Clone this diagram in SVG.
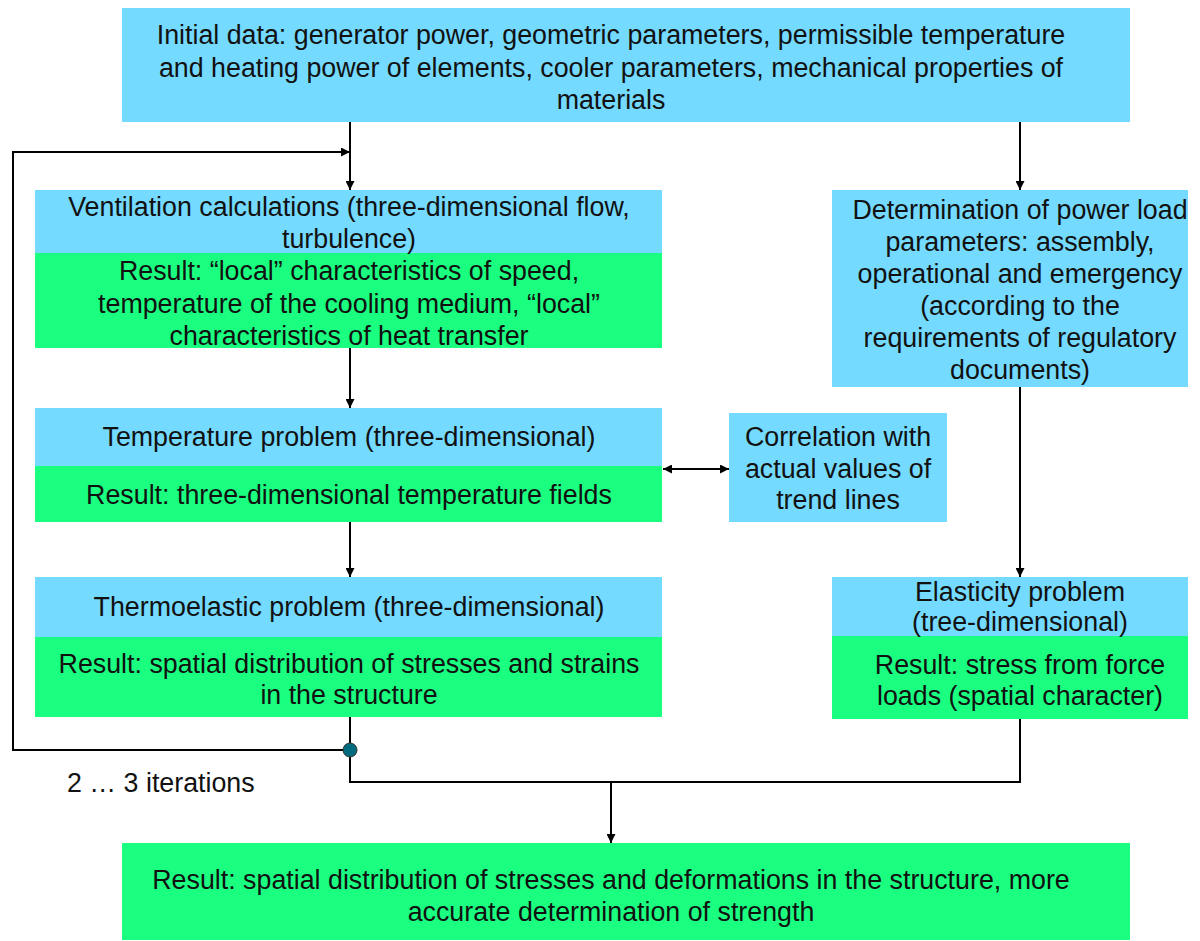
<svg xmlns="http://www.w3.org/2000/svg" width="1200" height="941" viewBox="0 0 1200 941">
<style>
.b{fill:#75DAFF}
.g{fill:#1AFF80}
text{font-family:"Liberation Sans",Arial,sans-serif;font-size:26.8px;fill:#111;text-anchor:middle}
.c{stroke:#000;stroke-width:2;fill:none}
</style>
<defs>
<marker id="a" viewBox="0 0 10 10" refX="10" refY="5" markerWidth="9" markerHeight="9" orient="auto-start-reverse" markerUnits="userSpaceOnUse">
<path d="M0,0 L10,5 L0,10 z" fill="#000"/>
</marker>
</defs>
<rect width="1200" height="941" fill="#fff"/>
<g id="connectors">
<path class="c" d="M350,122 V190" marker-end="url(#a)"/>
<path class="c" d="M350,750 H13 V152 H350" marker-end="url(#a)"/>
<path class="c" d="M350,348 V408" marker-end="url(#a)"/>
<path class="c" d="M350,522 V577" marker-end="url(#a)"/>
<path class="c" d="M350,717 V782 H1020 V719"/>
<path class="c" d="M611,782 V843" marker-end="url(#a)"/>
<path class="c" d="M1020,122 V190" marker-end="url(#a)"/>
<path class="c" d="M1020,387 V577" marker-end="url(#a)"/>
<path class="c" d="M663,469 H729" marker-start="url(#a)" marker-end="url(#a)"/>
<circle cx="350" cy="750" r="7" fill="#006A7E" stroke="#333" stroke-width="1"/>
</g>
<g id="initial">
<rect class="b" x="122" y="8" width="1008" height="114"/>
<text x="611" y="44">Initial data: generator power, geometric parameters, permissible temperature</text>
<text x="611" y="77">and heating power of elements, cooler parameters, mechanical properties of</text>
<text x="611" y="109">materials</text>
</g>
<g id="ventilation">
<rect class="b" x="35" y="190" width="627" height="63"/>
<rect class="g" x="35" y="253" width="627" height="95"/>
<text x="349" y="216">Ventilation calculations (three-dimensional flow,</text>
<text x="349" y="248">turbulence)</text>
<text x="349" y="280">Result: “local” characteristics of speed,</text>
<text x="349" y="313">temperature of the cooling medium, “local”</text>
<text x="349" y="345">characteristics of heat transfer</text>
</g>
<g id="temperature">
<rect class="b" x="35" y="408" width="627" height="58"/>
<rect class="g" x="35" y="466" width="627" height="56"/>
<text x="349" y="446">Temperature problem (three-dimensional)</text>
<text x="349" y="504">Result: three-dimensional temperature fields</text>
</g>
<g id="thermoelastic">
<rect class="b" x="35" y="577" width="627" height="60"/>
<rect class="g" x="35" y="637" width="627" height="80"/>
<text x="349" y="616">Thermoelastic problem (three-dimensional)</text>
<text x="349" y="673">Result: spatial distribution of stresses and strains</text>
<text x="349" y="704">in the structure</text>
</g>
<g id="correlation">
<rect class="b" x="729" y="413" width="218" height="109"/>
<text x="838" y="446">Correlation with</text>
<text x="838" y="478">actual values of</text>
<text x="838" y="509">trend lines</text>
</g>
<g id="determination">
<rect class="b" x="832" y="190" width="356" height="197"/>
<text x="1020" y="219">Determination of power load</text>
<text x="1020" y="251">parameters: assembly,</text>
<text x="1020" y="283">operational and emergency</text>
<text x="1020" y="315">(according to the</text>
<text x="1020" y="347">requirements of regulatory</text>
<text x="1020" y="379">documents)</text>
</g>
<g id="elasticity">
<rect class="b" x="832" y="577" width="356" height="59"/>
<rect class="g" x="832" y="636" width="356" height="83"/>
<text x="1020" y="601">Elasticity problem</text>
<text x="1020" y="631">(tree-dimensional)</text>
<text x="1020" y="674">Result: stress from force</text>
<text x="1020" y="705">loads (spatial character)</text>
</g>
<g id="result">
<rect class="g" x="122" y="843" width="1008" height="97"/>
<text x="611" y="889">Result: spatial distribution of stresses and deformations in the structure, more</text>
<text x="611" y="921">accurate determination of strength</text>
</g>
<g id="iterations">
<text x="67" y="792" style="text-anchor:start">2 … 3 iterations</text>
</g>
</svg>
